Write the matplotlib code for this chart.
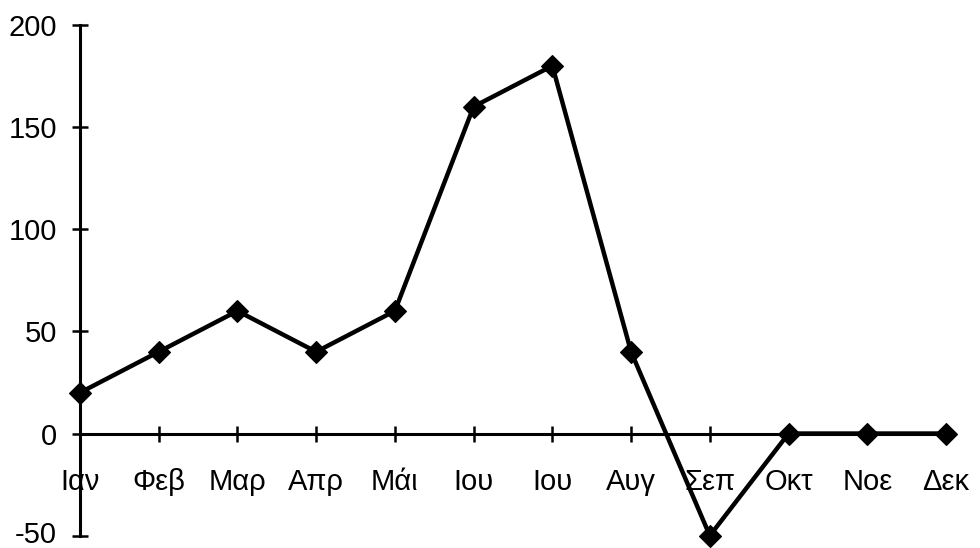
import matplotlib
matplotlib.use("Agg")
import matplotlib.pyplot as plt
from matplotlib.transforms import ScaledTranslation

months = ["Ιαν", "Φεβ", "Μαρ", "Απρ", "Μάι", "Ιου", "Ιου", "Αυγ", "Σεπ", "Οκτ", "Νοε", "Δεκ"]
values = [20, 40, 60, 40, 60, 160, 180, 40, -50, 0, 0, 0]
y_ticks = [-50, 0, 50, 100, 150, 200]

plt.rcParams["font.family"] = ["Liberation Sans", "DejaVu Sans"]

fig = plt.figure(figsize=(9.8, 5.48), dpi=100)
ax = fig.add_axes([0.0816, 0.0225, 0.8837, 0.932])

x = list(range(len(months)))
ax.plot(x, values, color="black", linewidth=3.2, marker="D", markersize=11,
        markeredgewidth=0.8, clip_on=False, zorder=3)

ax.set_xlim(0, len(months) - 1)
ax.set_ylim(-50, 200)

# axis line through zero, like the old spreadsheet charts
ax.spines["bottom"].set_position(("data", 0))
ax.spines["top"].set_visible(False)
ax.spines["right"].set_visible(False)
ax.spines["bottom"].set_linewidth(2.2)
ax.spines["left"].set_linewidth(2.2)

ax.set_xticks(x)
ax.set_xticklabels(months)
ax.set_yticks(y_ticks)
ax.set_yticklabels([str(v) for v in y_ticks])

ax.tick_params(axis="x", direction="inout", length=12, width=1.8, pad=19, labelsize=21)
ax.tick_params(axis="y", direction="inout", length=12, width=1.8, pad=10.5, labelsize=21)

# nudge the lowest label up a little so it stays inside the figure
low = ax.get_yticklabels()[0]
low.set_transform(low.get_transform() + ScaledTranslation(0, 3 / 72, fig.dpi_scale_trans))

fig.savefig("out.png", dpi=100)
